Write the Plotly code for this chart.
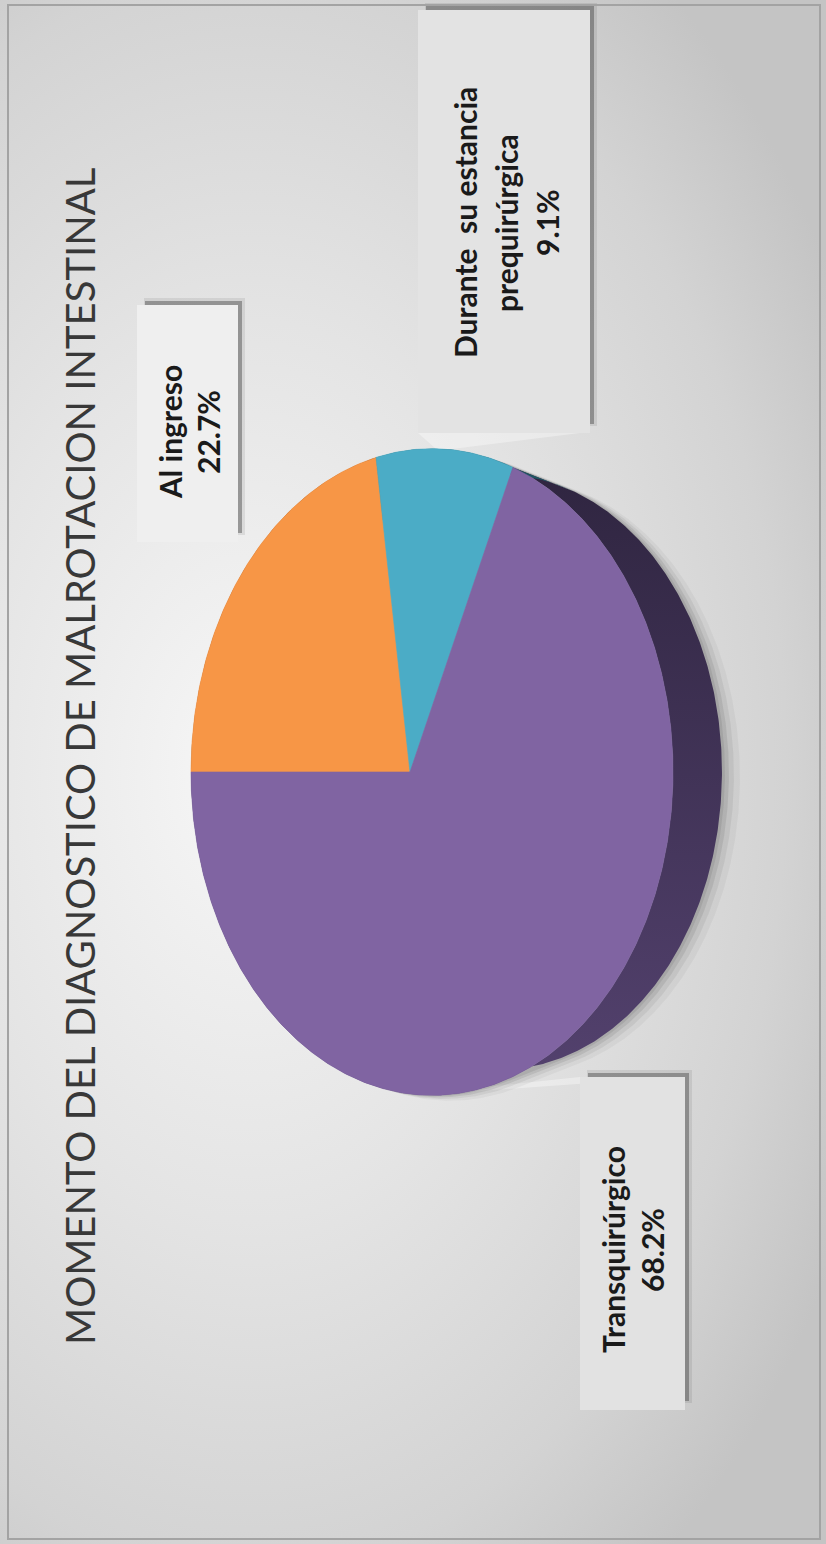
import numpy as np
import plotly.graph_objects as go

# ---- chart data -------------------------------------------------------------
title_text = "MOMENTO DEL DIAGNOSTICO DE MALROTACION INTESTINAL"
categories = ["Al ingreso", "Durante su estancia prequirúrgica", "Transquirúrgico"]
label_lines = [["Al ingreso"], ["Durante  su estancia", "prequirúrgica"], ["Transquirúrgico"]]
percentages = [22.7, 9.1, 68.2]

# ---- styling -----------------------------------------------------------------
face_colors = ["#F79646", "#4BACC6", "#8064A2"]
# side wall colours: [lower end, upper end] of the vertical gradient
side_colors = [["#8c5226", "#7a4620"], ["#235b69", "#1b4954"], ["#54426f", "#2f2540"]]

W, H = 826, 1544
CX, CY = 410.0, 772.0        # projected pie centre (px)
RX, RY = 239.0, 322.0        # projected radii (px)
PERSP = 0.0913               # perspective strength along the depth axis
DEPTH_DX, DEPTH_SCALE = 70.0, 0.92   # offset / shrink of the pie's lower face

# label boxes: x0, x1, y0, y1, fill, line centres (x), text centre (y), leader target angle
boxes = [
    dict(x0=137, x1=238, y0=305, y1=542, fill="#efefef", xs=[170, 208], yc=432),
    dict(x0=418, x1=590, y0=10, y1=433, fill="#e3e3e3", xs=[465, 506, 547], yc=223),
    dict(x0=580, x1=685, y0=1077, y1=1410, fill="#e2e2e2", xs=[613, 652], yc=1250),
]


def project(theta, dx=0.0, s=1.0):
    """Screen position of the rim point at angle theta (deg, clockwise from the left)."""
    t = np.radians(theta)
    u = -np.cos(t)
    v = -np.sin(t)
    p = 1.0 / (1.0 - PERSP * u)
    return CX + dx + s * RX * u * p, CY + s * RY * v * p


def arc(a0, a1, dx=0.0, s=1.0, n=None):
    n = n or max(4, int(abs(a1 - a0) * 2))
    th = np.linspace(a0, a1, n)
    return project(th, dx, s)


def hull(px, py):
    pts = sorted(set(zip(np.round(px, 2), np.round(py, 2))))

    def cross(o, a, b):
        return (a[0] - o[0]) * (b[1] - o[1]) - (a[1] - o[1]) * (b[0] - o[0])

    lower, upper = [], []
    for p in pts:
        while len(lower) >= 2 and cross(lower[-2], lower[-1], p) <= 0:
            lower.pop()
        lower.append(p)
    for p in reversed(pts):
        while len(upper) >= 2 and cross(upper[-2], upper[-1], p) <= 0:
            upper.pop()
        upper.append(p)
    h = lower[:-1] + upper[:-1]
    return np.array([q[0] for q in h] + [h[0][0]]), np.array([q[1] for q in h] + [h[0][1]])


def poly(fig, xs, ys, color=None, gradient=None):
    kw = dict(fillgradient=gradient) if gradient else dict(fillcolor=color)
    fig.add_trace(go.Scatter(x=xs, y=ys, mode="lines", line=dict(width=0), fill="toself",
                             hoverinfo="skip", showlegend=False, **kw))


fig = go.Figure()

# background panel with a soft radial gradient
poly(fig, [-420, 920, 920, -420, -420], [-230, -230, 1770, 1770, -230],
     gradient=dict(type="radial",
                   colorscale=[[0, "#f7f7f7"], [0.45, "#e4e4e4"], [0.8, "#d3d3d3"], [1, "#c4c4c4"]]))

# slice boundaries (degrees)
bounds = np.concatenate([[0.0], np.cumsum(np.array(percentages) * 3.6)])
mids = (bounds[:-1] + bounds[1:]) / 2

# light leader wedges between callouts and their slices
for i in (1, 2):
    b = boxes[i]
    ex, ey = project(mids[i] if i == 1 else 268.0)
    edge_y = b["y1"] if i == 1 else b["y0"]
    poly(fig, [b["x0"], b["x1"] - 10, ex + 8, ex - 8, b["x0"]],
         [edge_y, edge_y, ey, ey, edge_y], color="rgba(255,255,255,0.35)")

# soft drop shadow of the whole pie
fx, fy = arc(0, 360, n=720)
bx, by = arc(0, 360, DEPTH_DX, DEPTH_SCALE, n=720)
hx, hy = hull(np.concatenate([fx, bx]), np.concatenate([fy, by]))
for off, alpha in [(18, 0.04), (12, 0.06), (7, 0.08), (3, 0.08)]:
    poly(fig, hx + off, hy + off * 0.3, color=f"rgba(0,0,0,{alpha})")

# side walls of each slice
for i in reversed(range(len(percentages))):
    a0, a1 = bounds[i], bounds[i + 1]
    tx, ty = arc(a0, a1)
    lx, ly = arc(a1, a0, DEPTH_DX, DEPTH_SCALE)
    poly(fig, np.concatenate([tx, lx, tx[:1]]), np.concatenate([ty, ly, ty[:1]]),
         gradient=dict(type="vertical",
                       colorscale=[[0, side_colors[i][0]], [1, side_colors[i][1]]]))

# top faces of the slices
for i in range(len(percentages)):
    a0, a1 = bounds[i], bounds[i + 1]
    tx, ty = arc(a0, a1)
    fig.add_trace(go.Scatter(
        x=np.concatenate([[CX], tx, [CX]]), y=np.concatenate([[CY], ty, [CY]]),
        mode="lines", line=dict(width=0.6, color=face_colors[i]), fill="toself",
        fillcolor=face_colors[i], name=categories[i],
        hovertemplate=f"{categories[i]}: {percentages[i]:.1f}%<extra></extra>",
        showlegend=False))

shapes = []
annotations = []

# callout boxes with their drop shadow
for b in boxes:
    shapes.append(dict(type="rect", xref="x", yref="y", x0=b["x0"] + 7, x1=b["x1"] + 7,
                       y0=b["y0"] - 7, y1=b["y1"] - 7, line=dict(width=0),
                       fillcolor="rgba(0,0,0,0.08)", layer="above"))
    shapes.append(dict(type="rect", xref="x", yref="y", x0=b["x0"] + 8, x1=b["x1"] + 4,
                       y0=b["y0"] - 4, y1=b["y1"] - 9, line=dict(width=0),
                       fillcolor="rgba(70,70,70,0.45)", layer="above"))
    shapes.append(dict(type="rect", xref="x", yref="y", x0=b["x0"], x1=b["x1"],
                       y0=b["y0"], y1=b["y1"], line=dict(width=0),
                       fillcolor=b["fill"], layer="above"))

for i, b in enumerate(boxes):
    lines = label_lines[i] + [f"{percentages[i]:.1f}%"]
    for xline, txt in zip(b["xs"], lines):
        annotations.append(dict(x=xline, y=b["yc"], xref="x", yref="y", text=f"<b>{txt}</b>",
                                textangle=-90, showarrow=False, xanchor="center", yanchor="middle",
                                font=dict(family="Lato", size=30, color="#1a1a1a")))

annotations.append(dict(x=80, y=757, xref="x", yref="y", text=title_text, textangle=-90,
                        showarrow=False, xanchor="center", yanchor="middle",
                        font=dict(family="Lato", size=40, color="#383838")))

# outer frame
shapes.append(dict(type="rect", xref="x", yref="y", x0=8, x1=820, y0=5, y1=1539,
                   line=dict(color="#a3a3a3", width=2), fillcolor="rgba(0,0,0,0)", layer="above"))

fig.update_layout(
    width=W, height=H, margin=dict(l=0, r=0, t=0, b=0),
    paper_bgcolor="#d9d9d9", plot_bgcolor="#d9d9d9",
    xaxis=dict(range=[0, W], visible=False, fixedrange=True),
    yaxis=dict(range=[H, 0], visible=False, fixedrange=True),
    shapes=shapes, annotations=annotations, showlegend=False,
)

fig.write_html("out.html")
